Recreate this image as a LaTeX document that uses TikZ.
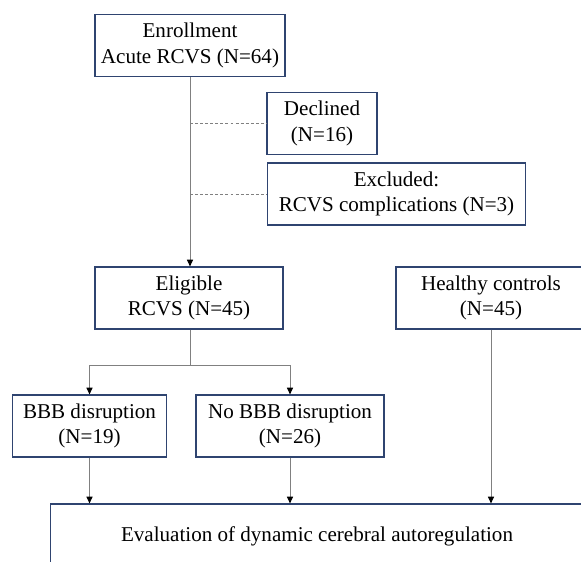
\documentclass[tikz,border=0pt]{standalone}
\usepackage{fontspec}
\setmainfont{Liberation Serif}
\usetikzlibrary{arrows.meta}

\definecolor{boxline}{HTML}{2F4470}
\definecolor{linkgray}{HTML}{808080}

\begin{document}
\begin{tikzpicture}[x=0.75pt,y=-0.75pt,
  font=\fontsize{15.8}{19.2}\selectfont,
  box/.style={draw=boxline,line width=0.9pt,align=center,inner sep=0pt},
  link/.style={draw=linkgray,line width=0.7pt},
  arr/.style={link,-{Triangle[length=5pt,width=4.5pt,color=black]}},
  skip/.style={link,dashed,dash pattern=on 2.2pt off 1.6pt}]
\useasboundingbox (0,0) rectangle (581,561);
\clip (0,0) rectangle (581,561);

\node[box,minimum width=142.5pt,minimum height=47pt] (enroll) at (190,45.5)
  {Enrollment\\Acute RCVS (N=64)};
\node[box,minimum width=82.5pt,minimum height=46pt] (declined) at (322,123.5)
  {Declined\\(N=16)};
\node[box,minimum width=194pt,minimum height=46.5pt] (excluded) at (396.5,194)
  {Excluded:\\RCVS complications (N=3)};
\node[box,minimum width=141pt,minimum height=46.5pt] (eligible) at (189,298)
  {Eligible\\RCVS (N=45)};
\node[box,minimum width=142.5pt,minimum height=46.5pt] (healthy) at (491,298)
  {Healthy controls\\(N=45)};
\node[box,minimum width=115pt,minimum height=46.5pt] (bbb) at (89.5,426)
  {BBB disruption\\(N=19)};
\node[box,minimum width=141pt,minimum height=46.5pt] (nobbb) at (290,426)
  {No BBB disruption\\(N=26)};
\node[box,minimum width=400pt,minimum height=48pt] (eval) at (317,536)
  {Evaluation of dynamic cerebral autoregulation};

% screening
\draw[arr] (enroll.south -| 190,0) -- (eligible.north -| 190,0);
\draw[skip] (declined.west -| 190,0) -- (declined.west);
\draw[skip] (excluded.west -| 190,0) -- (excluded.west);

% split by BBB status
\coordinate (split) at (190,365);
\draw[link] (eligible.south -| split) -- (split);
\draw[link] (split -| bbb) -- (split -| nobbb);
\draw[arr] (split -| bbb) -- (bbb.north);
\draw[arr] (split -| nobbb) -- (nobbb.north);

% to evaluation
\draw[arr] (bbb.south) -- (bbb.south |- eval.north);
\draw[arr] (nobbb.south) -- (nobbb.south |- eval.north);
\draw[arr] (healthy.south) -- (healthy.south |- eval.north);
\end{tikzpicture}
\end{document}
